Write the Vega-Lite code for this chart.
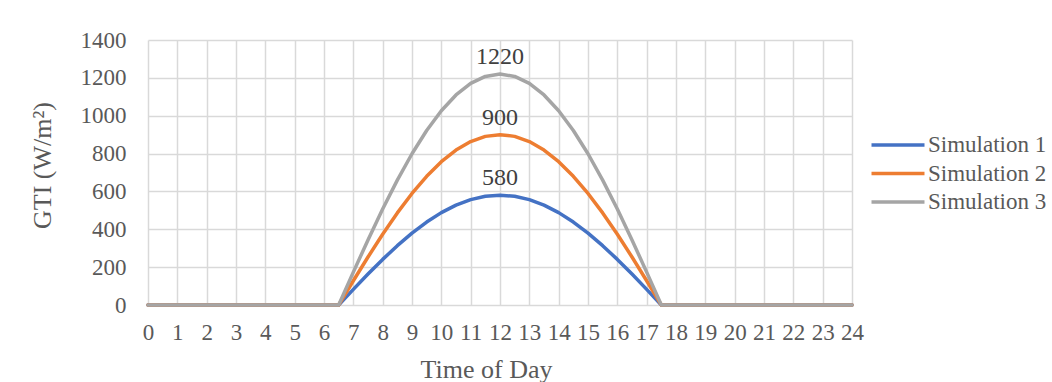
{
  "$schema": "https://vega.github.io/schema/vega-lite/v6.json",
  "width": 704,
  "height": 265,
  "autosize": {"type": "none"},
  "padding": {"left": 148, "top": 40, "right": 200, "bottom": 77},
  "background": "white",
  "config": {
    "font": "Liberation Serif",
    "view": {"stroke": null},
    "axis": {"labelFont": "Liberation Serif", "titleFont": "Liberation Serif", "labelColor": "#595959", "titleColor": "#595959", "titleFontWeight": "normal", "gridColor": "#D9D9D9", "gridWidth": 1.5, "ticks": false, "domain": false, "labelOverlap": false},
    "legend": {"labelFont": "Liberation Serif"},
    "text": {"font": "Liberation Serif"}
  },
  "data": {
    "values": [
      {"t": 0, "gti": 0, "series": "Simulation 1"},
      {"t": 6.5, "gti": 0, "series": "Simulation 1"},
      {"t": 7, "gti": 82.5, "series": "Simulation 1"},
      {"t": 7.5, "gti": 163.4, "series": "Simulation 1"},
      {"t": 8, "gti": 240.9, "series": "Simulation 1"},
      {"t": 8.5, "gti": 313.5, "series": "Simulation 1"},
      {"t": 9, "gti": 379.8, "series": "Simulation 1"},
      {"t": 9.5, "gti": 438.3, "series": "Simulation 1"},
      {"t": 10, "gti": 488.0, "series": "Simulation 1"},
      {"t": 10.5, "gti": 527.6, "series": "Simulation 1"},
      {"t": 11, "gti": 556.5, "series": "Simulation 1"},
      {"t": 11.5, "gti": 574.1, "series": "Simulation 1"},
      {"t": 12, "gti": 580, "series": "Simulation 1"},
      {"t": 12.5, "gti": 574.1, "series": "Simulation 1"},
      {"t": 13, "gti": 556.5, "series": "Simulation 1"},
      {"t": 13.5, "gti": 527.6, "series": "Simulation 1"},
      {"t": 14, "gti": 488.0, "series": "Simulation 1"},
      {"t": 14.5, "gti": 438.3, "series": "Simulation 1"},
      {"t": 15, "gti": 379.8, "series": "Simulation 1"},
      {"t": 15.5, "gti": 313.5, "series": "Simulation 1"},
      {"t": 16, "gti": 240.9, "series": "Simulation 1"},
      {"t": 16.5, "gti": 163.4, "series": "Simulation 1"},
      {"t": 17, "gti": 82.5, "series": "Simulation 1"},
      {"t": 17.5, "gti": 0, "series": "Simulation 1"},
      {"t": 24, "gti": 0, "series": "Simulation 1"},
      {"t": 0, "gti": 0, "series": "Simulation 2"},
      {"t": 6.5, "gti": 0, "series": "Simulation 2"},
      {"t": 7, "gti": 128.1, "series": "Simulation 2"},
      {"t": 7.5, "gti": 253.5, "series": "Simulation 2"},
      {"t": 8, "gti": 373.9, "series": "Simulation 2"},
      {"t": 8.5, "gti": 486.5, "series": "Simulation 2"},
      {"t": 9, "gti": 589.4, "series": "Simulation 2"},
      {"t": 9.5, "gti": 680.1, "series": "Simulation 2"},
      {"t": 10, "gti": 757.2, "series": "Simulation 2"},
      {"t": 10.5, "gti": 818.6, "series": "Simulation 2"},
      {"t": 11, "gti": 863.6, "series": "Simulation 2"},
      {"t": 11.5, "gti": 890.8, "series": "Simulation 2"},
      {"t": 12, "gti": 900, "series": "Simulation 2"},
      {"t": 12.5, "gti": 890.8, "series": "Simulation 2"},
      {"t": 13, "gti": 863.6, "series": "Simulation 2"},
      {"t": 13.5, "gti": 818.6, "series": "Simulation 2"},
      {"t": 14, "gti": 757.2, "series": "Simulation 2"},
      {"t": 14.5, "gti": 680.1, "series": "Simulation 2"},
      {"t": 15, "gti": 589.4, "series": "Simulation 2"},
      {"t": 15.5, "gti": 486.5, "series": "Simulation 2"},
      {"t": 16, "gti": 373.9, "series": "Simulation 2"},
      {"t": 16.5, "gti": 253.5, "series": "Simulation 2"},
      {"t": 17, "gti": 128.1, "series": "Simulation 2"},
      {"t": 17.5, "gti": 0, "series": "Simulation 2"},
      {"t": 24, "gti": 0, "series": "Simulation 2"},
      {"t": 0, "gti": 0, "series": "Simulation 3"},
      {"t": 6.5, "gti": 0, "series": "Simulation 3"},
      {"t": 7, "gti": 173.6, "series": "Simulation 3"},
      {"t": 7.5, "gti": 343.7, "series": "Simulation 3"},
      {"t": 8, "gti": 506.8, "series": "Simulation 3"},
      {"t": 8.5, "gti": 659.5, "series": "Simulation 3"},
      {"t": 9, "gti": 799.0, "series": "Simulation 3"},
      {"t": 9.5, "gti": 922.0, "series": "Simulation 3"},
      {"t": 10, "gti": 1026.4, "series": "Simulation 3"},
      {"t": 10.5, "gti": 1109.7, "series": "Simulation 3"},
      {"t": 11, "gti": 1170.6, "series": "Simulation 3"},
      {"t": 11.5, "gti": 1207.6, "series": "Simulation 3"},
      {"t": 12, "gti": 1220, "series": "Simulation 3"},
      {"t": 12.5, "gti": 1207.6, "series": "Simulation 3"},
      {"t": 13, "gti": 1170.6, "series": "Simulation 3"},
      {"t": 13.5, "gti": 1109.7, "series": "Simulation 3"},
      {"t": 14, "gti": 1026.4, "series": "Simulation 3"},
      {"t": 14.5, "gti": 922.0, "series": "Simulation 3"},
      {"t": 15, "gti": 799.0, "series": "Simulation 3"},
      {"t": 15.5, "gti": 659.5, "series": "Simulation 3"},
      {"t": 16, "gti": 506.8, "series": "Simulation 3"},
      {"t": 16.5, "gti": 343.7, "series": "Simulation 3"},
      {"t": 17, "gti": 173.6, "series": "Simulation 3"},
      {"t": 17.5, "gti": 0, "series": "Simulation 3"},
      {"t": 24, "gti": 0, "series": "Simulation 3"}
    ]
  },
  "encoding": {
    "x": {"field": "t", "type": "quantitative", "scale": {"domain": [0, 24], "nice": false}, "axis": {"values": [0,1,2,3,4,5,6,7,8,9,10,11,12,13,14,15,16,17,18,19,20,21,22,23,24], "format": "d", "title": "Time of Day", "labelFontSize": 23, "titleFontSize": 26, "labelPadding": 16, "titleX": 338, "titleY": 64, "titleBaseline": "middle", "titleAlign": "center", "labelFlush": false}},
    "y": {"field": "gti", "type": "quantitative", "scale": {"domain": [0, 1400], "nice": false}, "axis": {"values": [0,200,400,600,800,1000,1200,1400], "format": "d", "title": "GTI (W/m²)", "labelFontSize": 23, "titleFontSize": 26, "labelPadding": 22, "titleX": -106, "titleY": 125, "titleBaseline": "middle", "titleAlign": "center", "titleAngle": -90}}
  },
  "layer": [
    {
      "mark": {"type": "line", "strokeWidth": 3.5, "strokeCap": "round", "strokeJoin": "round"},
      "encoding": {
        "color": {"field": "series", "type": "nominal", "scale": {"domain": ["Simulation 1", "Simulation 2", "Simulation 3"], "range": ["#4472C4", "#ED7D31", "#A5A5A5"]}, "legend": {"title": null, "orient": "none", "legendX": 735, "legendY": 90, "symbolType": "M-2,0H2", "symbolSize": 702, "symbolStrokeWidth": 3.5, "labelFontSize": 23, "labelColor": "#595959", "labelFont": "Liberation Serif", "rowPadding": 1.5, "labelOffset": 15}}
      }
    },
    {
      "transform": [{"filter": "datum.t == 12"}],
      "mark": {"type": "text", "dy": -17, "fontSize": 24, "color": "#404040", "font": "Liberation Serif"},
      "encoding": {
        "text": {"field": "gti", "type": "quantitative"}
      }
    }
  ]
}
